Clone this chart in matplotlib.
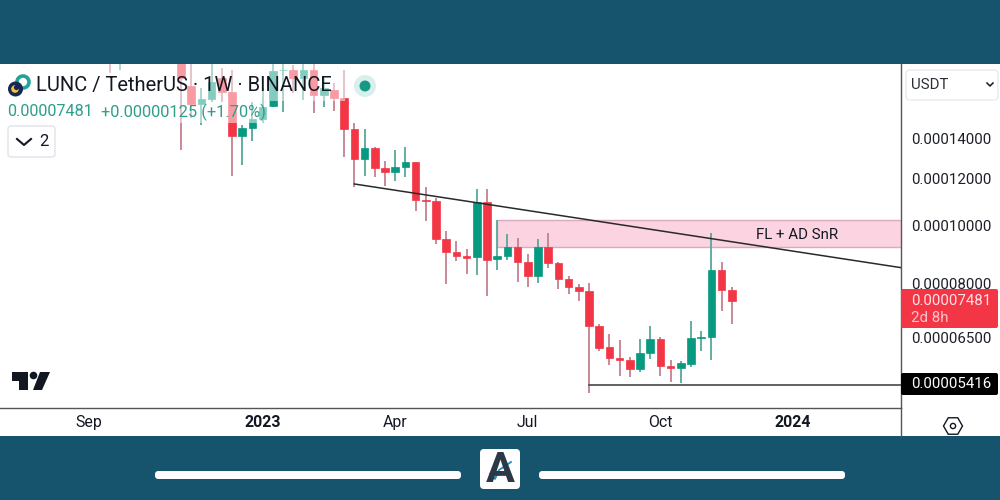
import matplotlib
matplotlib.use('Agg')
import matplotlib.pyplot as plt
import matplotlib.dates as mdates
from matplotlib.patches import Circle, FancyBboxPatch, Polygon, Rectangle, RegularPolygon
import numpy as np
import pandas as pd

plt.rcParams['font.family'] = ['Roboto', 'DejaVu Sans']

# weekly candles, prices in units of 1e-5 USDT
early_weeks = ['2022-09-19', '2022-09-26']
main_weeks = pd.date_range('2022-11-07', '2023-11-20', freq='7D')
weeks = pd.DatetimeIndex(early_weeks).append(main_weeks)

opens = [19.73, 19.35,
         19.0, 17.18, 16.02, 16.33, 17.71, 16.78, 14.15, 14.60, 15.12, 15.90, 18.24, 18.26, 17.71, 18.26,
         16.59, 16.91, 16.40, 14.54, 12.95, 13.51, 12.51, 12.32, 12.56, 12.80, 11.06, 11.02, 9.51, 9.045,
         8.91, 8.87, 10.97, 8.80, 8.91, 9.22, 8.70, 8.25, 9.22, 8.67, 8.15, 7.90, 7.78, 6.80, 6.27,
         6.01, 5.96, 5.76, 6.125, 6.466, 5.83, 5.78, 5.87, 6.49, 6.516, 8.438, 7.81]
closes = [19.35, 19.73,
          17.71, 16.02, 16.33, 17.44, 16.78, 14.15, 14.60, 15.12, 15.84, 18.19, 18.26, 17.71, 18.26, 16.59,
          17.04, 16.40, 14.54, 12.95, 13.51, 12.51, 12.32, 12.56, 12.80, 11.06, 11.02, 9.51, 9.045, 8.91,
          8.84, 10.97, 8.77, 8.91, 9.22, 8.70, 8.25, 9.22, 8.67, 8.15, 7.90, 7.78, 6.80, 6.24, 6.01,
          5.96, 5.76, 6.125, 6.466, 5.83, 5.78, 5.89, 6.49, 6.516, 8.438, 7.81, 7.481]
highs = [20.51, 20.51,
         19.73, 18.9, 17.04, 18.9, 18.40, 18.26, 14.77, 16.15, 17.04, 18.9, 18.9, 18.62, 18.9, 18.9,
         17.71, 17.38, 18.26, 14.89, 14.54, 13.57, 12.85, 13.41, 13.57, 12.80, 11.63, 11.15, 9.80, 9.44,
         9.15, 11.54, 11.54, 10.24, 9.70, 9.55, 8.975, 9.51, 9.735, 8.70, 8.25, 7.99, 8.03, 6.85, 6.59,
         6.44, 6.03, 6.466, 6.80, 6.516, 5.96, 5.94, 6.93, 6.67, 9.735, 8.70, 7.90]
lows = [18.06, 18.26,
        13.41, 15.18, 14.77, 16.15, 16.15, 12.13, 12.66, 13.89, 14.89, 15.84, 15.53, 16.72, 16.27, 15.47,
        15.84, 15.59, 13.05, 11.63, 12.13, 12.08, 11.67, 11.90, 12.08, 10.60, 10.20, 9.33, 7.99, 8.74,
        8.31, 8.28, 7.63, 8.44, 8.77, 8.06, 7.90, 8.03, 8.50, 7.84, 7.69, 7.486, 5.25, 6.17, 5.85,
        5.605, 5.58, 5.69, 5.98, 5.605, 5.477, 5.46, 5.80, 6.17, 5.961, 7.20, 6.85]

price_ticks = [14.0, 12.0, 10.0, 8.0, 6.5]
price_labels = ['0.00014000', '0.00012000', '0.00010000', '0.00008000', '0.00006500']
date_ticks = ['2022-09-05', '2023-01-02', '2023-04-03', '2023-07-03', '2023-10-02', '2024-01-01']
date_labels = ['Sep', '2023', 'Apr', 'Jul', 'Oct', '2024']

trend_dates = ['2023-03-06', '2024-03-17']
trend_prices = [11.76, 8.50]
zone_dates = ['2023-06-12', '2024-03-17']
zone_prices = [9.22, 10.24]
support_dates = ['2023-08-14', '2024-03-17']
support_price = 5.416

RED = '#f23645'
GREEN = '#089981'
RED_WICK = '#c4808f'
GREEN_WICK = '#55a89a'
BAND = '#15546c'
INK = '#131722'
LINE = '#555555'
SCALE = 1e-5


def px_box(ax, x0, y0, x1, y1, r, **kw):
    ax.add_patch(FancyBboxPatch((x0 + r, y0 + r), x1 - x0 - 2 * r, y1 - y0 - 2 * r,
                                boxstyle=f'round,pad={r},rounding_size={r}', **kw))


fig = plt.figure(figsize=(10, 5), dpi=100, facecolor=BAND)

bg = fig.add_axes([0, 0, 1, 1], zorder=0)
bg.set_xlim(0, 1000)
bg.set_ylim(500, 0)
bg.axis('off')
bg.add_patch(Rectangle((0, 64), 1000, 372, facecolor='white', lw=0))

# price pane spans x 0-901 and y 64-408 px
ax = fig.add_axes([0, 92 / 500, 0.901, 344 / 500], facecolor='white', zorder=1)
ax.set_yscale('log')
ax.set_ylim(4.952e-5, 1.869e-4)
jan = mdates.date2num(pd.Timestamp('2023-01-02'))
day_px = 10.2 / 7
ax.set_xlim(jan - 262.6 / day_px, jan + (901 - 262.6) / day_px)

x = mdates.date2num(weeks)
o = np.array(opens) * SCALE
c = np.array(closes) * SCALE
h = np.array(highs) * SCALE
l = np.array(lows) * SCALE
up = c >= o

zone_x = mdates.date2num(pd.to_datetime(zone_dates))
ax.add_patch(Rectangle((zone_x[0], zone_prices[0] * SCALE), zone_x[1] - zone_x[0],
                       (zone_prices[1] - zone_prices[0]) * SCALE,
                       facecolor='#fbd3e1', edgecolor='#dcaac0', lw=1, zorder=1))
ax.text(mdates.date2num(pd.Timestamp('2024-01-04')), 9.66 * SCALE, 'FL + AD SnR',
        ha='center', va='center', fontsize=10.8, color=INK, zorder=5)

ax.vlines(x[up], l[up], h[up], color=GREEN_WICK, lw=1.3, zorder=2)
ax.vlines(x[~up], l[~up], h[~up], color=RED_WICK, lw=1.3, zorder=2)
ax.bar(x[up], (c - o)[up], bottom=o[up], width=5.3, color=GREEN, edgecolor=GREEN, lw=0.5, zorder=3)
ax.bar(x[~up], (o - c)[~up], bottom=c[~up], width=5.3, color=RED, edgecolor=RED, lw=0.5, zorder=3)

ax.plot(mdates.date2num(pd.to_datetime(trend_dates)), np.array(trend_prices) * SCALE,
        color='#2a2a2a', lw=1.1, zorder=4)
ax.plot(mdates.date2num(pd.to_datetime(support_dates)), [support_price * SCALE] * 2,
        color=LINE, lw=1.3, zorder=4)

ax.set_yticks(np.array(price_ticks) * SCALE, price_labels)
ax.minorticks_off()
ax.yaxis.tick_right()
ax.tick_params(axis='y', length=0, pad=7, labelsize=10.8, labelcolor='#1c1f26')
ax.set_xticks(mdates.date2num(pd.to_datetime(date_ticks)), date_labels)
ax.tick_params(axis='x', length=0, pad=5, labelsize=11.4, labelcolor=INK)
for lab in ax.get_xticklabels():
    if lab.get_text().startswith('20'):
        lab.set_fontweight('bold')
for side in ['top', 'left']:
    ax.spines[side].set_visible(False)
for side in ['right', 'bottom']:
    ax.spines[side].set_color(LINE)
    ax.spines[side].set_linewidth(1)

# screen furniture in pixel coordinates
ui = fig.add_axes([0, 0, 1, 1], facecolor='none', zorder=2)
ui.set_xlim(0, 1000)
ui.set_ylim(500, 0)
ui.axis('off')

# legend veil over the candles
ui.add_patch(Rectangle((0, 64), 345, 37, facecolor='white', alpha=0.5, lw=0))
ui.add_patch(Rectangle((0, 101), 270, 22, facecolor='white', alpha=0.5, lw=0))

ui.plot([901, 901], [408, 436], color=LINE, lw=1)

# coin logo
ui.add_patch(Circle((23, 82), 6, facecolor='white', edgecolor='#22a39a', lw=2.6))
ui.add_patch(Circle((15.5, 89), 7.5, facecolor='#172852', lw=0))
ui.add_patch(Circle((15, 89), 3.8, facecolor='#f5c542', lw=0))
ui.add_patch(Circle((16.5, 87.5), 2.6, facecolor='#172852', lw=0))

ui.text(36, 85.5, 'LUNC / TetherUS · 1W · BINANCE', fontsize=14.5, color=INK, va='center', ha='left')
ui.text(7, 112, '0.00007481', fontsize=11.7, color='#2f9e8c', va='center', ha='left')
ui.text(101, 112, '+0.00000125 (+1.70%)', fontsize=11.8, color='#2f9e8c', va='center', ha='left')

ui.add_patch(Circle((365, 86), 11, facecolor='#d9efeb', lw=0))
ui.add_patch(Circle((365, 86), 5.5, facecolor='#159a86', lw=0))

px_box(ui, 8, 126, 55, 157, 3, facecolor='white', edgecolor='#e0e3eb', lw=1)
ui.plot([17, 24, 31], [139, 145, 139], color=INK, lw=1.5)
ui.text(44, 141.5, '2', fontsize=12, color=INK, ha='center', va='center')

# TradingView mark
ui.add_patch(Polygon([(12, 372), (28, 372), (28, 390), (19, 390), (19, 381), (12, 381)], facecolor=INK, lw=0))
ui.add_patch(Circle((33.5, 375.5), 3.8, facecolor=INK, lw=0))
ui.add_patch(Polygon([(40, 372), (50, 372), (42, 390), (33, 390)], facecolor=INK, lw=0))

# right hand scale furniture
px_box(ui, 906, 70, 998, 100, 4, facecolor='white', edgecolor='#e8eaef', lw=1)
ui.text(911, 85, 'USDT', fontsize=10.8, color='#2a2e39', ha='left', va='center')
ui.plot([987, 990, 993], [83, 86, 83], color=INK, lw=1.1)

px_box(ui, 901, 289, 998, 328, 2, facecolor=RED, lw=0)
ui.text(911, 301, '0.00007481', fontsize=10.8, color='#fde3e6', ha='left', va='center')
ui.text(911, 318, '2d 8h', fontsize=10.8, color='#fbc3c9', ha='left', va='center')
px_box(ui, 901, 373, 998, 395, 2, facecolor='black', lw=0)
ui.text(911, 384.5, '0.00005416', fontsize=10.8, color='white', ha='left', va='center')

ui.add_patch(RegularPolygon((953, 426), 6, radius=9.5, orientation=np.pi / 2, facecolor='white',
                            edgecolor=INK, lw=1))
ui.add_patch(Circle((953, 426), 2.6, facecolor='white', edgecolor=INK, lw=1))

# footer bars and badge
px_box(ui, 155, 471, 461, 479, 3.5, facecolor='white', lw=0)
px_box(ui, 539, 471, 845, 479, 3.5, facecolor='white', lw=0)
px_box(ui, 480, 449, 520, 489, 4, facecolor='white', lw=0)
ui.text(500, 470, 'A', fontsize=31, fontweight='bold', color='#2b3846', ha='center', va='center')
ui.plot([490, 495, 499, 511], [474, 479, 470, 462], color='white', lw=3)
ui.plot([490, 495, 499, 511], [474, 479, 470, 462], color='#1f8fc4', lw=1.3)

fig.savefig('out.png', dpi=100, facecolor=BAND)
